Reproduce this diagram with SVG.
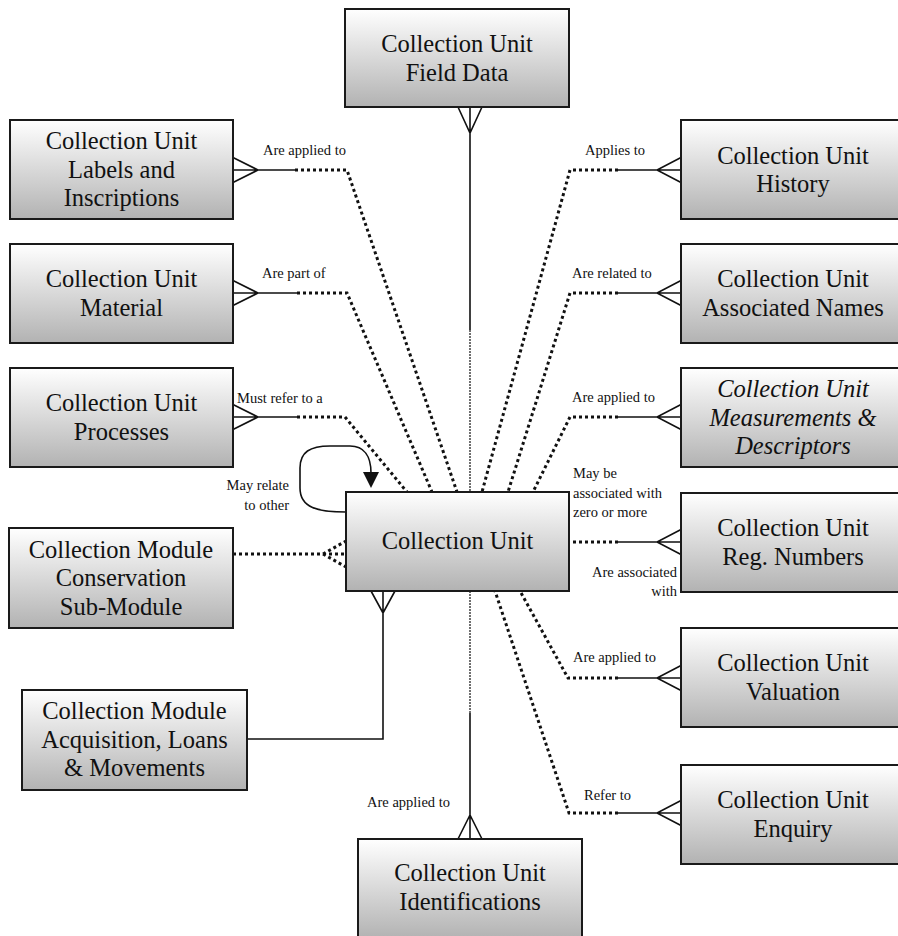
<svg xmlns="http://www.w3.org/2000/svg" width="898" height="936" viewBox="0 0 898 936">
  <defs>
    <linearGradient id="boxFill" x1="0" y1="0" x2="0" y2="1">
      <stop offset="0" stop-color="#ffffff"/>
      <stop offset="1" stop-color="#b2b2b2"/>
    </linearGradient>
    <style>
      .box { fill: url(#boxFill); stroke: #1a1a1a; stroke-width: 2; }
      .name { font-family: "Liberation Serif", "Times New Roman", serif; font-size: 24.5px; fill: #111; text-anchor: middle; }
      .ital { font-style: italic; }
      .lbl { font-family: "Liberation Serif", "Times New Roman", serif; font-size: 14.5px; fill: #111; }
      .solid { fill: none; stroke: #111; stroke-width: 1.6; }
      .dots { fill: none; stroke: #111; stroke-width: 3; stroke-dasharray: 3 3; }
      .thin { fill: none; stroke: #111; stroke-width: 1.2; stroke-dasharray: 2 1; }
    </style>
  </defs>
  <rect width="898" height="936" fill="#ffffff"/>

  <!-- connectors -->
  <g id="connectors">
    <!-- Field Data -> Collection Unit -->
    <path class="solid" d="M470,107 V330 M458,107 L470,133 L482,107"/>
    <path class="thin" d="M470,330 V492"/>
    <!-- Collection Unit -> Identifications -->
    <path class="thin" d="M470,591 V713"/>
    <path class="solid" d="M470,713 V839 M458,839 L470,815 L482,839"/>

    <!-- Labels and Inscriptions -->
    <path class="solid" d="M233,170 H295 M233,157.5 L258,170 L233,182.5"/>
    <path class="dots" d="M295,170 H347 L457,492"/>
    <text class="lbl" x="263" y="155">Are applied to</text>

    <!-- Material -->
    <path class="solid" d="M233,293 H297 M233,280.5 L258,293 L233,305.5"/>
    <path class="dots" d="M297,293 H347 L432,492"/>
    <text class="lbl" x="262" y="278">Are part of</text>

    <!-- Processes -->
    <path class="solid" d="M233,417 H297 M233,404.5 L258,417 L233,429.5"/>
    <path class="dots" d="M297,417 H345 L407,492"/>
    <text class="lbl" x="237" y="403">Must refer to a</text>

    <!-- History -->
    <path class="solid" d="M681,170 H618 M681,157.5 L657,170 L681,182.5"/>
    <path class="dots" d="M618,170 H570 L482,492"/>
    <text class="lbl" x="585" y="155">Applies to</text>

    <!-- Associated Names -->
    <path class="solid" d="M681,293 H618 M681,280.5 L657,293 L681,305.5"/>
    <path class="dots" d="M618,293 H570 L508,492"/>
    <text class="lbl" x="572" y="278">Are related to</text>

    <!-- Measurements & Descriptors -->
    <path class="solid" d="M681,417 H618 M681,404.5 L657,417 L681,429.5"/>
    <path class="dots" d="M618,417 H570 L533,492"/>
    <text class="lbl" x="572" y="402">Are applied to</text>

    <!-- Reg. Numbers -->
    <path class="solid" d="M681,542 H618 M681,529.5 L657,542 L681,554.5"/>
    <path class="dots" d="M618,542 H569"/>
    <text class="lbl" x="573" y="478">May be</text>
    <text class="lbl" x="573" y="497.5">associated with</text>
    <text class="lbl" x="573" y="517">zero or more</text>
    <text class="lbl" x="677" y="577" text-anchor="end">Are associated</text>
    <text class="lbl" x="677" y="595.5" text-anchor="end">with</text>

    <!-- Valuation -->
    <path class="solid" d="M681,678 H618 M681,665.5 L657,678 L681,690.5"/>
    <path class="dots" d="M618,678 H568 L520,591"/>
    <text class="lbl" x="573" y="662">Are applied to</text>

    <!-- Enquiry -->
    <path class="solid" d="M681,813 H618 M681,800.5 L657,813 L681,825.5"/>
    <path class="dots" d="M618,813 H569 L495,591"/>
    <text class="lbl" x="584" y="800">Refer to</text>

    <!-- Identifications label -->
    <text class="lbl" x="450" y="807" text-anchor="end">Are applied to</text>

    <!-- Conservation Sub-Module -->
    <path class="dots" d="M233,554 H323 M323,554 L346,541 M323,554 H346 M323,554 L346,567"/>

    <!-- Acquisition, Loans & Movements -->
    <path class="solid" d="M247,739 H383 V591 M371,591 L383,613 L395,591"/>

    <!-- self relation -->
    <path class="solid" d="M346,512 C318,512 300,508 300,488 L300,468 C300,452 310,446 330,446 L350,446 C364,446 371,456 371,473"/>
    <path d="M363,472 L379,472 L371,488 Z" fill="#111"/>
    <text class="lbl" x="289" y="490" text-anchor="end">May relate</text>
    <text class="lbl" x="289" y="510" text-anchor="end">to other</text>
  </g>

  <!-- entities -->
  <g id="field-data">
    <rect class="box" x="345" y="9" width="224" height="98"/>
    <text class="name" x="457" y="52">Collection Unit</text>
    <text class="name" x="457" y="80.5">Field Data</text>
  </g>
  <g id="labels-inscriptions">
    <rect class="box" x="10" y="120" width="223" height="99"/>
    <text class="name" x="121.5" y="149">Collection Unit</text>
    <text class="name" x="121.5" y="177.5">Labels and</text>
    <text class="name" x="121.5" y="206">Inscriptions</text>
  </g>
  <g id="material">
    <rect class="box" x="10" y="244" width="223" height="99"/>
    <text class="name" x="121.5" y="287">Collection Unit</text>
    <text class="name" x="121.5" y="315.5">Material</text>
  </g>
  <g id="processes">
    <rect class="box" x="10" y="368" width="223" height="99"/>
    <text class="name" x="121.5" y="411">Collection Unit</text>
    <text class="name" x="121.5" y="439.5">Processes</text>
  </g>
  <g id="conservation">
    <rect class="box" x="9" y="528" width="224" height="100"/>
    <text class="name" x="121" y="557.5">Collection Module</text>
    <text class="name" x="121" y="586">Conservation</text>
    <text class="name" x="121" y="614.5">Sub-Module</text>
  </g>
  <g id="acquisition">
    <rect class="box" x="22" y="690" width="225" height="100"/>
    <text class="name" x="134.5" y="719">Collection Module</text>
    <text class="name" x="134.5" y="747.5">Acquisition, Loans</text>
    <text class="name" x="134.5" y="776">&amp; Movements</text>
  </g>
  <g id="collection-unit">
    <rect class="box" x="346" y="492" width="223" height="99"/>
    <text class="name" x="457.5" y="549">Collection Unit</text>
  </g>
  <g id="history">
    <rect class="box" x="681" y="120" width="224" height="99"/>
    <text class="name" x="793" y="163.5">Collection Unit</text>
    <text class="name" x="793" y="192">History</text>
  </g>
  <g id="associated-names">
    <rect class="box" x="681" y="244" width="224" height="99"/>
    <text class="name" x="793" y="287">Collection Unit</text>
    <text class="name" x="793" y="315.5">Associated Names</text>
  </g>
  <g id="measurements">
    <rect class="box" x="681" y="368" width="224" height="99"/>
    <text class="name ital" x="793" y="397">Collection Unit</text>
    <text class="name ital" x="793" y="425.5">Measurements &amp;</text>
    <text class="name ital" x="793" y="454">Descriptors</text>
  </g>
  <g id="reg-numbers">
    <rect class="box" x="681" y="493" width="224" height="99"/>
    <text class="name" x="793" y="536">Collection Unit</text>
    <text class="name" x="793" y="564.5">Reg. Numbers</text>
  </g>
  <g id="valuation">
    <rect class="box" x="681" y="628" width="224" height="99"/>
    <text class="name" x="793" y="671">Collection Unit</text>
    <text class="name" x="793" y="699.5">Valuation</text>
  </g>
  <g id="enquiry">
    <rect class="box" x="681" y="765" width="224" height="99"/>
    <text class="name" x="793" y="808">Collection Unit</text>
    <text class="name" x="793" y="836.5">Enquiry</text>
  </g>
  <g id="identifications">
    <rect class="box" x="358" y="839" width="224" height="100"/>
    <text class="name" x="470" y="881">Collection Unit</text>
    <text class="name" x="470" y="909.5">Identifications</text>
  </g>
</svg>
